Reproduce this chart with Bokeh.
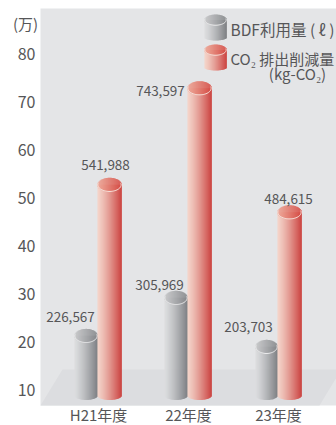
import numpy as np
from bokeh.core.properties import value
from bokeh.embed import file_html
from bokeh.models import Range1d
from bokeh.plotting import figure
from bokeh.resources import INLINE

# Chart data
years = ["H21年度", "22年度", "23年度"]
bdf_use = [226567, 305969, 203703]
co2_cut = [541988, 743597, 484615]
y_ticks = [10, 20, 30, 40, 50, 60, 70, 80]

WIDTH, HEIGHT = 336, 425
LEFT, TOP, BOTTOM = 40, 8, 405
FONT = "Noto Sans CJK JP"
INK = "#565658"
PANEL = "#e4e5e7"
FLOOR = "#dcdde0"

GRAY = {"body": ("#dcdddf", "#737579"), "cap": ("#c6c7c9", "#85878a"), "rim": "#eeeeef"}
RED = {"body": ("#f6d3c7", "#c9322f"), "cap": ("#eea595", "#d54c45"), "rim": "#f7e6e0"}

# Horizontal scale: one unit per year group, vertical scale: 10,000 units
GROUP_PX, GROUP0_PX = 90.0, 98.0
Y10_PX, Y_PER_UNIT = 389.0, 4.79


def ux(px):
    return (px - GROUP0_PX) / GROUP_PX


def uy(px):
    return 10 + (Y10_PX - px) / Y_PER_UNIT


# The frame fills the page so the unit, scale and year texts can sit around the panel
p = figure(
    width=WIDTH, height=HEIGHT, output_backend="svg", toolbar_location=None,
    x_range=Range1d(ux(0), ux(WIDTH)), y_range=Range1d(uy(HEIGHT), uy(0)),
    x_axis_type=None, y_axis_type=None,
    min_border_left=0, min_border_right=0, min_border_top=0, min_border_bottom=0,
    background_fill_color="white", border_fill_color="white", outline_line_color=None,
)
p.grid.visible = False

# Panel and its floor
p.quad(left=ux(LEFT), right=ux(WIDTH), top=uy(TOP), bottom=uy(BOTTOM),
       fill_color=PANEL, line_color=None)
p.patch(
    [ux(v) for v in (62, WIDTH, WIDTH, 319, LEFT)],
    [uy(v) for v in (369, 369, 377, BOTTOM, BOTTOM)],
    fill_color=FLOOR, line_color=None,
)


def mix(pair, t):
    a = [int(pair[0][i:i + 2], 16) for i in (1, 3, 5)]
    b = [int(pair[1][i:i + 2], 16) for i in (1, 3, 5)]
    return "#%02x%02x%02x" % tuple(round(a[k] + (b[k] - a[k]) * t) for k in range(3))


def cylinder(x0_px, x1_px, top_val, bottom_px, colors, ry_top=7.0, ry_bottom=4.5):
    """Shaded cylinder built from one-pixel strips; the cap's upper edge sits on top_val."""
    n = int(round(x1_px - x0_px))
    edges = x0_px + np.arange(n + 1)
    mid = (edges[:-1] + edges[1:]) / 2
    s = (mid - (x0_px + x1_px) / 2) / ((x1_px - x0_px) / 2)
    bulge = np.sqrt(np.clip(1 - s ** 2, 0, 1))
    t = (s + 1) / 2
    top_u = top_val - ry_top / Y_PER_UNIT
    bottom_u = uy(bottom_px)
    # body
    p.quad(
        left=ux(edges[:-1]), right=ux(edges[1:] + 0.3),
        top=top_u, bottom=bottom_u - bulge * ry_bottom / Y_PER_UNIT,
        fill_color=[mix(colors["body"], v ** 1.25) for v in t], line_color=None,
    )
    # cap
    p.quad(
        left=ux(edges[:-1]), right=ux(edges[1:] + 0.3),
        top=top_u + bulge * ry_top / Y_PER_UNIT, bottom=top_u - bulge * ry_top / Y_PER_UNIT,
        fill_color=[mix(colors["cap"], v) for v in t], line_color=None,
    )
    # pale rim along the near edge of the cap
    a = np.linspace(-0.25, np.pi + 0.25, 40)
    p.line(
        ux((x0_px + x1_px) / 2 + np.cos(a) * (x1_px - x0_px) / 2 * 0.97),
        top_u - np.sin(a) * ry_top * 0.95 / Y_PER_UNIT,
        line_color=colors["rim"], line_width=1,
    )


def note(x, y, text, align="center", size="13.5px"):
    p.text(
        [x], [y], text=[text], text_font=value(FONT), text_font_size=size,
        text_color=INK, text_align=align, text_baseline="middle",
    )


# Cylinders per year: gray and red edges in pixels
spans = [(74, 97, 121), (164, 187, 211), (255, 277, 301)]
for (a, b, c), bdf, co2 in zip(spans, bdf_use, co2_cut):
    cylinder(a, b, bdf / 10000, 395, GRAY)
    cylinder(b, c, co2 / 10000, 395, RED)

# Value labels
bdf_label_at = [(70, 316), (159, 284), (248, 326)]
co2_label_at = [(105, 164), (160, 90), (288, 198)]
for vals, places in ((bdf_use, bdf_label_at), (co2_cut, co2_label_at)):
    for v, (x, y) in zip(vals, places):
        note(ux(x), uy(y), f"{v:,}")

# Vertical scale texts
for tick in y_ticks:
    note(ux(35), tick, str(tick), align="right", size="16px")

# Year labels under the panel
for i, year in enumerate(years):
    note(i, uy(414), year, size="15px")

# Unit and legend
note(ux(25), uy(23), "(万)", size="15px")
cylinder(204, 226, uy(14), 37, GRAY, ry_top=5.5, ry_bottom=3.0)
cylinder(204, 226, uy(44), 67, RED, ry_top=5.5, ry_bottom=3.0)
note(ux(230), uy(28), "BDF利用量 ( ℓ )", align="left", size="15.5px")
note(ux(230), uy(58), "CO₂ 排出削減量", align="left", size="15px")
note(ux(297), uy(73), "(kg-CO₂)", size="15px")

open("out.html", "w").write(file_html(p, INLINE))
